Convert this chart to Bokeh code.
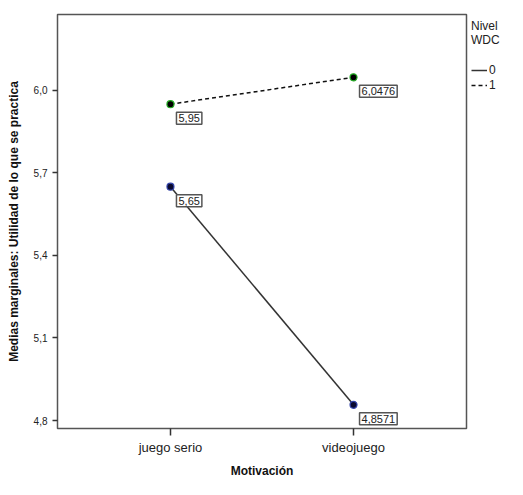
from bokeh.plotting import figure
from bokeh.models import (ColumnDataSource, FixedTicker, CustomJSTickFormatter,
                          Label, Legend, LegendItem, Range1d)
from bokeh.embed import file_html
from bokeh.resources import INLINE

categories = ["juego serio", "videojuego"]
nivel0 = [5.65, 4.8571]
nivel1 = [5.95, 6.0476]
labels0 = ["5,65", "4,8571"]
labels1 = ["5,95", "6,0476"]
y_ticks = [4.8, 5.1, 5.4, 5.7, 6.0]

FONT = "Liberation Sans"
xs = list(range(len(categories)))

p = figure(frame_width=409, frame_height=414, output_backend="svg", toolbar_location=None,
           x_range=Range1d(-0.617, 1.617), y_range=Range1d(4.771, 6.276),
           min_border_left=57, min_border_right=0, min_border_top=14, min_border_bottom=49)
p.grid.visible = False
p.background_fill_color = "white"
p.outline_line_color = "#555555"
p.outline_line_width = 1.5

src0 = ColumnDataSource(dict(x=xs, y=nivel0))
src1 = ColumnDataSource(dict(x=xs, y=nivel1))

l0 = p.line("x", "y", source=src0, line_color="#333333", line_width=1.5)
l1 = p.line("x", "y", source=src1, line_color="#111111", line_width=1.5, line_dash="4 3")
p.scatter("x", "y", source=src0, size=7, fill_color="#0a0a30", line_color="#3344aa", line_width=1.2)
p.scatter("x", "y", source=src1, size=7, fill_color="#000000", line_color="#22aa22", line_width=1.2)

for ys, ts in ((nivel0, labels0), (nivel1, labels1)):
    for xv, yv, tv in zip(xs, ys, ts):
        p.add_layout(Label(x=xv, y=yv, text=tv, x_offset=6, y_offset=-8,
                           text_align="left", text_baseline="top", text_font=FONT,
                           text_font_size="11px", text_color="#222222",
                           background_fill_color="white", border_line_color="#555555",
                           border_line_width=1.5, padding=2))

p.xaxis.ticker = FixedTicker(ticks=xs)
p.xaxis.major_label_overrides = {i: c for i, c in enumerate(categories)}
p.yaxis.ticker = FixedTicker(ticks=y_ticks)
p.yaxis.formatter = CustomJSTickFormatter(code="return tick.toFixed(1).replace('.', ',');")
for ax in (p.xaxis, p.yaxis):
    ax.axis_line_color = None
    ax.minor_tick_line_color = None
    ax.major_tick_line_color = "#333333"
    ax.major_tick_line_width = 1.5
    ax.major_tick_in = 0
    ax.major_label_text_font = FONT
    ax.major_label_text_color = "#222222"
    ax.axis_label_text_font = FONT
    ax.axis_label_text_font_style = "bold"
    ax.axis_label_text_font_size = "12px"
    ax.axis_label_text_color = "#111111"
p.xaxis.major_tick_out = 7
p.yaxis.major_tick_out = 5
p.xaxis.major_label_text_font_size = "13px"
p.yaxis.major_label_text_font_size = "10px"
p.xaxis.major_label_standoff = 4
p.xaxis.axis_label = "Motivación"
p.yaxis.axis_label = "Medias marginales: Utilidad de lo que se practica"
p.xaxis.axis_label_standoff = 6
p.yaxis.axis_label_standoff = 10

legend = Legend(items=[LegendItem(label="0", renderers=[l0]), LegendItem(label="1", renderers=[l1])],
                location="top_left", title="Nivel\nWDC", title_text_font=FONT,
                title_text_font_size="12px", title_text_font_style="normal",
                title_text_color="#222222", title_standoff=16,
                label_text_font=FONT, label_text_font_size="12px", label_text_color="#222222",
                glyph_width=16, glyph_height=14, label_standoff=2, spacing=1,
                label_height=14, border_line_color=None, background_fill_alpha=0,
                padding=0, margin=5)
p.add_layout(legend, "right")

open("out.html", "w").write(file_html(p, INLINE))
